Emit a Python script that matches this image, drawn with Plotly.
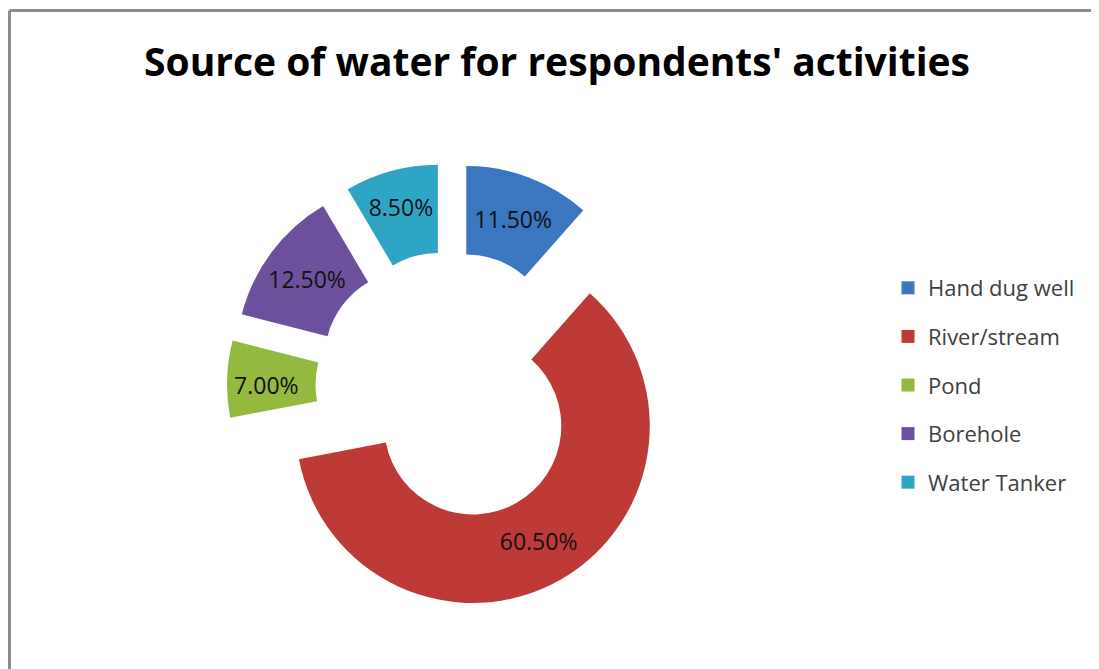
import plotly.graph_objects as go

categories = ["Hand dug well", "River/stream", "Pond", "Borehole", "Water Tanker"]
values = [11.5, 60.5, 7.0, 12.5, 8.5]
colors = ["#3B76C1", "#BE3A36", "#93B93F", "#6E519C", "#2FA5C5"]
title_text = "Source of water for respondents' activities"

W, H = 1099, 669
OFF = 8  # page offset of the figure inside the browser window

fig = go.Figure()
fig.add_trace(go.Pie(
    labels=categories,
    values=values,
    text=[f"{v:.2f}%" for v in values],
    textinfo="text",
    textposition="inside",
    insidetextorientation="horizontal",
    textfont=dict(family="Open Sans", size=23, color="#111111"),
    marker=dict(colors=colors, line=dict(width=0)),
    hole=0.5,
    pull=[0.26] * len(values),
    sort=False,
    direction="clockwise",
    rotation=0,
    domain=dict(x=[(227 - OFF) / W, (673 - OFF) / W],
                y=[1 - (609 - OFF) / H, 1 - (163 - OFF) / H]),
    showlegend=False,
    hoverinfo="label+percent",
))

# legend entries (one group per category for even spacing)
for cat, col in zip(categories, colors):
    fig.add_trace(go.Scatter(
        x=[None], y=[None], mode="markers", name=cat,
        legendgroup=cat,
        marker=dict(symbol="square", size=13, color=col),
    ))

fig.update_layout(
    width=W, height=H,
    margin=dict(l=0, r=0, t=0, b=0),
    paper_bgcolor="white",
    plot_bgcolor="white",
    xaxis=dict(visible=False),
    yaxis=dict(visible=False),
    title=dict(text=f"<b>{title_text}</b>", x=(557 - OFF) / W, xanchor="center",
               y=1 - (62 - OFF) / H, yanchor="middle", yref="container",
               font=dict(family="Open Sans", size=39, color="#000000")),
    legend=dict(x=(888 - OFF) / W, xanchor="left", y=1 - (267 - OFF) / H, yanchor="top",
                font=dict(family="Open Sans", size=22, color="#404040"),
                tracegroupgap=17, bgcolor="rgba(0,0,0,0)"),
    shapes=[
        dict(type="line", xref="paper", yref="paper", x0=1.5 / W, x1=1, y0=1 - 2.5 / H, y1=1 - 2.5 / H,
             line=dict(color="#8C8C8C", width=3)),
        dict(type="line", xref="paper", yref="paper", x0=1.5 / W, x1=1.5 / W, y0=1 - 2.5 / H, y1=0,
             line=dict(color="#8C8C8C", width=3)),
    ],
)

fig.write_html("out.html")
